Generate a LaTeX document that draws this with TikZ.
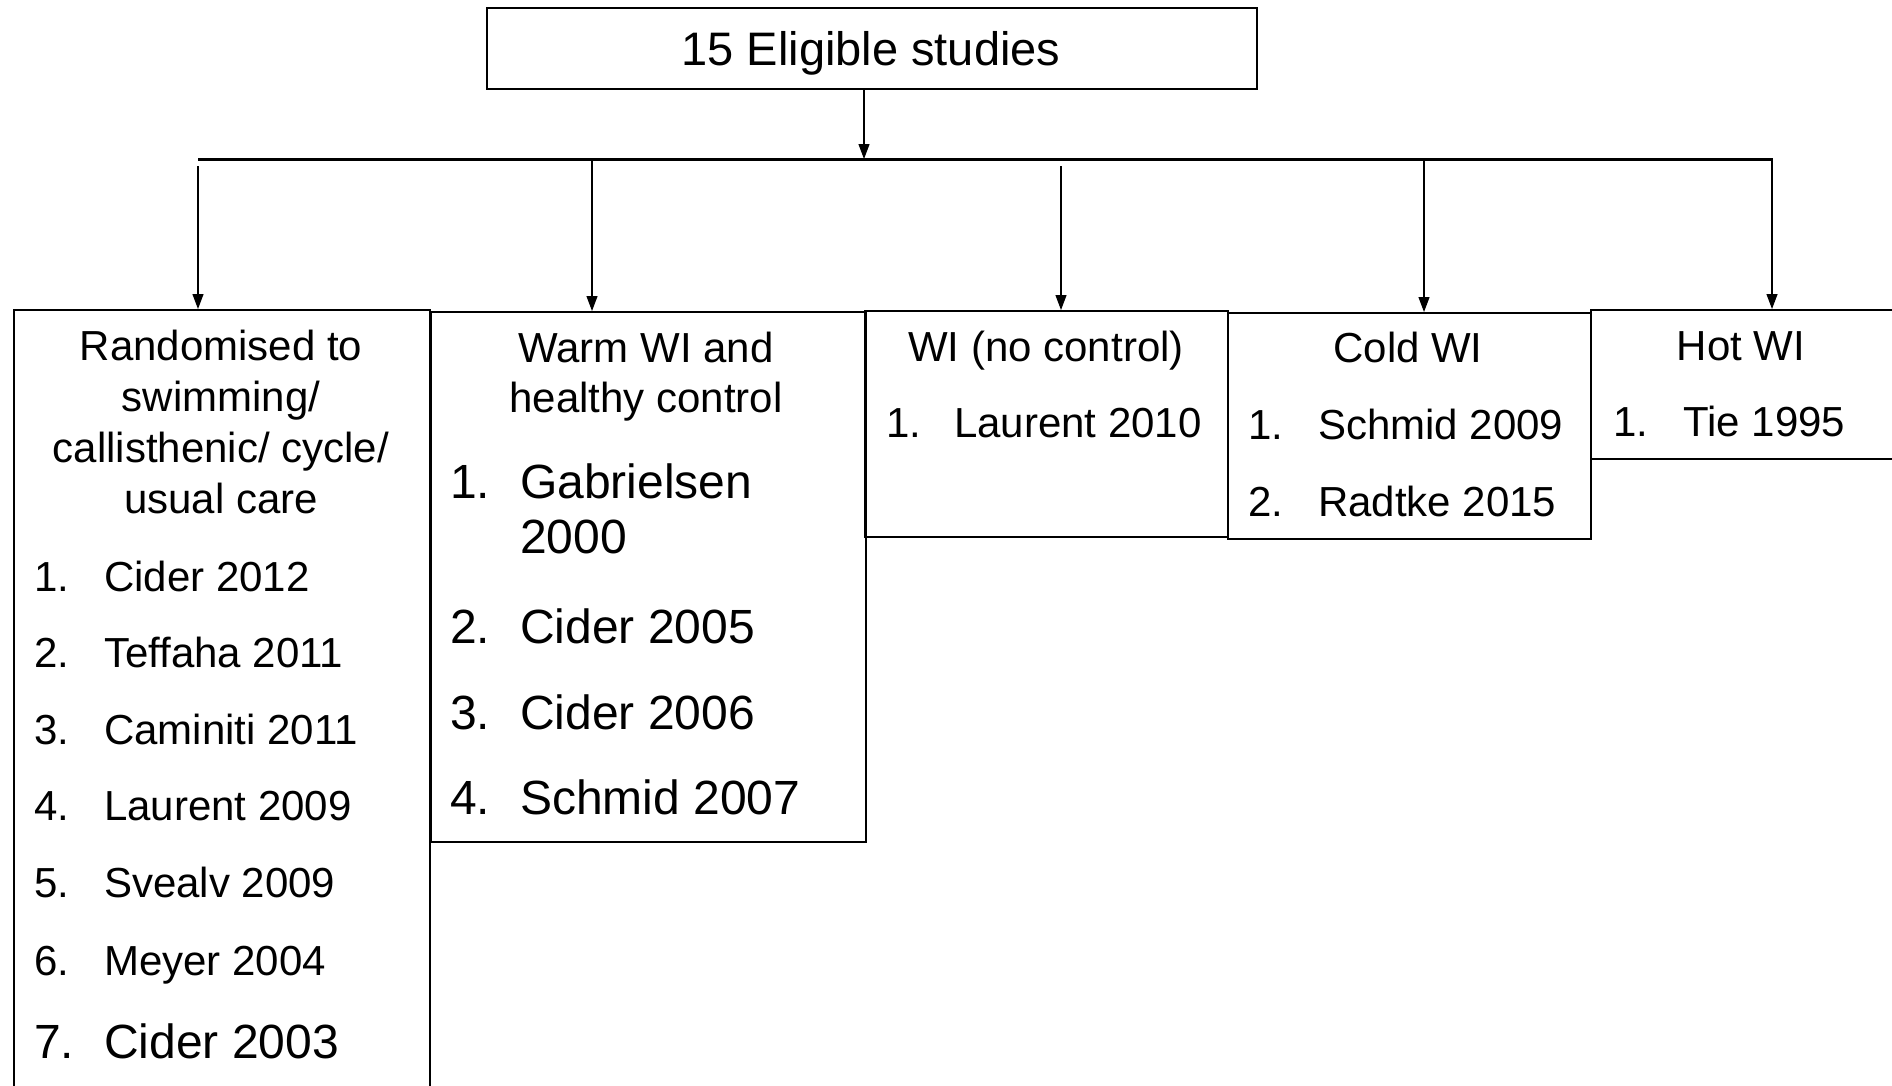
\documentclass[tikz,border=0pt]{standalone}
\usepackage{fontspec}
\setmainfont{Liberation Sans}
\usetikzlibrary{arrows.meta}
\newcommand{\numit}[2]{\makebox[70pt][l]{#1}#2}
\begin{document}
\begin{tikzpicture}[x=1pt,y=-1pt,
  box/.style={draw, line width=1.8pt, rectangle, inner sep=0pt, anchor=north west},
  arr/.style={line width=1.2pt, -{Triangle[length=15pt,width=11pt]}},
  bus/.style={line width=3pt},
  hd/.style={anchor=base, inner sep=0pt, font=\fontsize{42}{50}\selectfont},
  it/.style={anchor=base west, inner sep=0pt, font=\fontsize{42}{50}\selectfont},
  itb/.style={anchor=base west, inner sep=0pt, font=\fontsize{48}{56}\selectfont},
  ttl/.style={anchor=base, inner sep=0pt, font=\fontsize{47}{56}\selectfont}]
\useasboundingbox (0,0) rectangle (1892,1085);
\clip (0,0) rectangle (1892,1085);

% top box
\node[box, minimum width=770pt, minimum height=81pt] (top) at (486,7) {};
\node[ttl] (title) at (871,65) {15 Eligible studies};

% category boxes
\node[box, minimum width=416pt, minimum height=900pt] (b1) at (13,309) {};
\node[box, minimum width=435pt, minimum height=530pt] (b2) at (430,311) {};
\node[box, minimum width=363pt, minimum height=226pt] (b3) at (864,310) {};
\node[box, minimum width=363pt, minimum height=226pt] (b4) at (1227,312) {};
\node[box, minimum width=400pt, minimum height=149pt] (b5) at (1590,309) {};

% bus and arrows
\coordinate (busL) at (198,159);
\coordinate (busR) at (1773,159);
\draw[bus] (busL) -- (busR);
\coordinate (j0) at (864,159);
\draw[arr] (top.south -| j0) -- (j0);
\coordinate (j1) at (198,166);
\coordinate (j2) at (592,159);
\coordinate (j3) at (1061,166);
\coordinate (j4) at (1424,159);
\coordinate (j5) at (1772,159);
\draw[arr] (j1) -- (j1 |- b1.north);
\draw[arr] (j2) -- (j2 |- b2.north);
\draw[arr] (j3) -- (j3 |- b3.north);
\draw[arr] (j4) -- (j4 |- b4.north);
\draw[arr] (j5) -- (j5 |- b5.north);

% box 1
\node[hd] (h1a) at (221,360) {Randomised to};
\node[hd] (h1b) at (221,411) {swimming/};
\node[hd] (h1c) at (221,462) {callisthenic/ cycle/};
\node[hd] (h1d) at (221,513) {usual care};
\node[it] (i11) at (34,591) {\numit{1.}{Cider 2012}};
\node[it] (i12) at (34,667) {\numit{2.}{Teffaha 2011}};
\node[it] (i13) at (34,744) {\numit{3.}{Caminiti 2011}};
\node[it] (i14) at (34,820) {\numit{4.}{Laurent 2009}};
\node[it] (i15) at (34,897) {\numit{5.}{Svealv 2009}};
\node[it] (i16) at (34,975) {\numit{6.}{Meyer 2004}};
\node[itb] (i17) at (34,1058) {\numit{7.}{Cider 2003}};

% box 2
\node[hd] (h2a) at (646,362) {Warm WI and};
\node[hd] (h2b) at (646,412) {healthy control};
\node[itb] (i21) at (450,498) {\numit{1.}{Gabrielsen}};
\node[itb] (i21b) at (520,553) {2000};
\node[itb] (i22) at (450,643) {\numit{2.}{Cider 2005}};
\node[itb] (i23) at (450,729) {\numit{3.}{Cider 2006}};
\node[itb] (i24) at (450,814) {\numit{4.}{Schmid 2007}};

% box 3
\node[hd] (h3) at (1046,361) {WI (no control)};
\node[it] (i31) at (886,437) {\makebox[68pt][l]{1.}Laurent 2010};

% box 4
\node[hd] (h4) at (1408,362) {Cold WI};
\node[it] (i41) at (1248,439) {\numit{1.}{Schmid 2009}};
\node[it] (i42) at (1248,516) {\numit{2.}{Radtke 2015}};

% box 5
\node[hd] (h5) at (1741,360) {Hot WI};
\node[it] (i51) at (1613,436) {\numit{1.}{Tie 1995}};
\end{tikzpicture}
\end{document}
